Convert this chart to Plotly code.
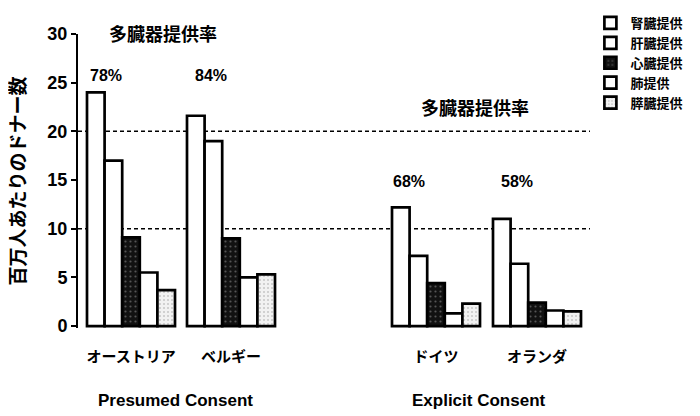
import plotly.graph_objects as go

countries = ["オーストリア", "ベルギー", "ドイツ", "オランダ"]
group_pos = [0.0, 1.0, 3.05, 4.06]
organs = ["腎臓提供", "肝臓提供", "心臓提供", "肺提供", "膵臓提供"]
kidney = [24.0, 21.6, 12.2, 11.0]
liver = [17.0, 19.0, 7.2, 6.4]
heart = [9.1, 9.0, 4.4, 2.4]
lung = [5.5, 5.0, 1.3, 1.6]
pancreas = [3.7, 5.3, 2.3, 1.5]
rates = ["78%", "84%", "68%", "58%"]
consent_labels = ["Presumed Consent", "Explicit Consent"]
yticks = [0, 5, 10, 15, 20, 25, 30]

series = [kidney, liver, heart, lung, pancreas]
fills = ["white", "white", "#111111", "white", "#f2f2f2"]
patterns = [None, None,
            dict(shape=".", fgcolor="#9a9a9a", size=5, solidity=0.15),
            None,
            dict(shape=".", fgcolor="#9a9a9a", size=4, solidity=0.2)]

FONT = "Liberation Sans, Noto Sans CJK JP, sans-serif"
bw = 0.176

fig = go.Figure()
for i, (name, vals) in enumerate(zip(organs, series)):
    m = dict(color=fills[i], line=dict(color="black", width=2.7))
    if patterns[i]:
        m["pattern"] = patterns[i]
    fig.add_trace(go.Bar(
        x=group_pos, y=vals, name=name, width=bw, offset=-0.44 + i * bw,
        marker=m, showlegend=True,
    ))

for yv in [20, 10]:
    fig.add_shape(type="line", xref="paper", yref="y", x0=0, x1=1.0,
                  y0=yv, y1=yv, layer="below",
                  line=dict(color="black", width=1.5, dash="4px,3px"))

ann_font = dict(family=FONT, size=16, color="black", weight="bold")
title_font = dict(family=FONT, size=18, color="black", weight="bold")
fig.add_annotation(x=0.32, y=30.0, xref="x", yref="y", text="多臓器提供率",
                   showarrow=False, font=title_font)
fig.add_annotation(x=3.44, y=22.3, xref="x", yref="y", text="多臓器提供率",
                   showarrow=False, font=title_font)
rate_pos = [(-0.25, 25.7), (0.80, 25.7), (2.78, 14.9), (3.86, 14.9)]
for (rx, ry), t in zip(rate_pos, rates):
    fig.add_annotation(x=rx, y=ry, xref="x", yref="y", text=t, showarrow=False, font=ann_font)
for cx, t in zip([0.44, 3.48], consent_labels):
    fig.add_annotation(x=cx, y=-0.245, xref="x", yref="paper", yanchor="middle",
                       text=t, showarrow=False,
                       font=dict(family=FONT, size=17, color="black", weight="bold"))

fig.update_layout(
    width=700, height=416,
    margin=dict(l=70, r=118, t=26, b=96, autoexpand=False),
    paper_bgcolor="white", plot_bgcolor="white",
    barmode="overlay",
    showlegend=True,
    legend=dict(xref="container", yref="container", x=0.832, y=1.0,
                xanchor="left", yanchor="top",
                font=dict(family=FONT, size=13, color="black", weight="bold"),
                bgcolor="rgba(0,0,0,0)", itemwidth=30, tracegroupgap=0),
    font=dict(family=FONT, color="black"),
)
fig.update_xaxes(range=[-0.53, 4.59], tickvals=group_pos, ticktext=countries,
                 showline=False, showgrid=False, zeroline=False, ticks="",
                 automargin=False,
                 tickfont=dict(family=FONT, size=15, color="black", weight="bold"),
                 ticklabelstandoff=18)
fig.update_yaxes(range=[-0.2, 30], tickvals=yticks, showline=True, linecolor="black",
                 linewidth=2, ticks="outside", ticklen=5, tickwidth=2, tickcolor="black",
                 showgrid=False, zeroline=False, automargin=False,
                 tickfont=dict(family=FONT, size=18, color="black", weight="bold"),
                 title=dict(text="百万人あたりのドナー数", standoff=20,
                            font=dict(family=FONT, size=19, color="black", weight="bold")))

fig.write_html("out.html")
